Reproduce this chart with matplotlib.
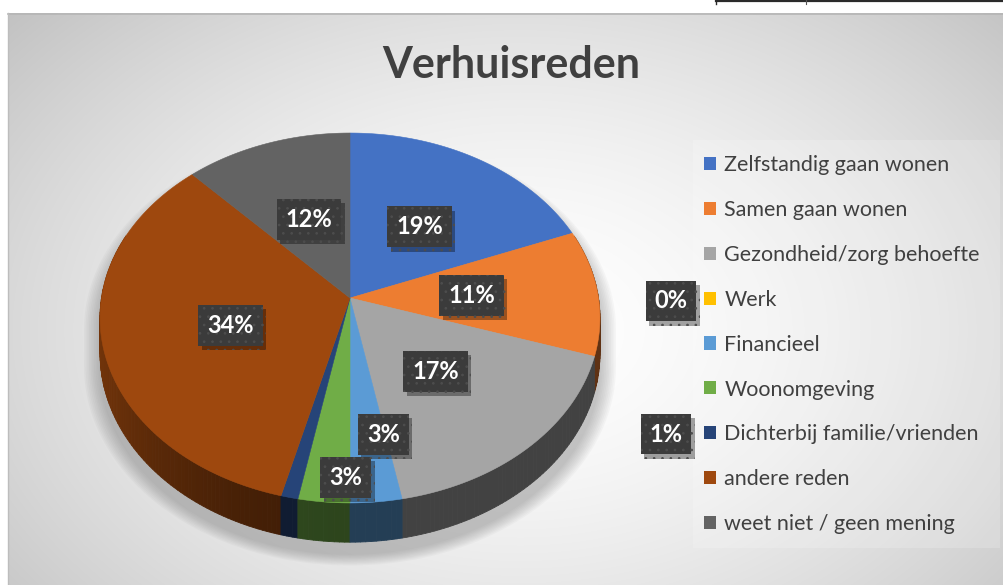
import numpy as np
import matplotlib
matplotlib.use('Agg')
import matplotlib.pyplot as plt
from matplotlib.patches import Polygon, Patch, Rectangle
from matplotlib.collections import PolyCollection
import matplotlib.patheffects as pe

# ---------------- data ----------------
title = 'Verhuisreden'
categories = ['Zelfstandig gaan wonen', 'Samen gaan wonen', 'Gezondheid/zorg behoefte',
              'Werk', 'Financieel', 'Woonomgeving', 'Dichterbij familie/vrienden',
              'andere reden', 'weet niet / geen mening']
percentages = [19, 11, 17, 0, 3, 3, 1, 34, 12]
colors = ['#4472C4', '#ED7D31', '#A5A5A5', '#FFC000', '#5B9BD5',
          '#70AD47', '#264478', '#9E480E', '#636363']

FONT = 'Lato'
plt.rcParams['font.family'] = [FONT, 'DejaVu Sans']
plt.rcParams['hatch.linewidth'] = 0.7

W, H = 1004, 585
fig = plt.figure(figsize=(W / 100, H / 100), dpi=100)
ax = fig.add_axes([0, 0, 1, 1])
ax.set_xlim(0, W)
ax.set_ylim(H, 0)
ax.axis('off')

# ---------------- background ----------------
yy, xx = np.mgrid[13:H, 8:W]
d = np.hypot((xx - 520) / 600.0, (yy - 330) / 420.0)
val = 1 - 0.24 * np.clip(d / 1.14, 0, 1.1) ** 1.6
img = np.dstack([val] * 3)
ax.imshow(img, extent=(8, W, H, 13), interpolation='bilinear', zorder=0, aspect='auto')
ax.plot([8, W], [13.5, 13.5], color='#b5b5b5', lw=1.2, zorder=1)
ax.plot([8.5, 8.5], [13, H], color='#bdbdbd', lw=1.0, zorder=1)
ax.plot([716, W], [1, 1], color='#2a2a2a', lw=1.6, zorder=1)
ax.plot([716, 716], [0, 4], color='#2a2a2a', lw=1.0, zorder=1)
ax.plot([806, 806], [0, 4], color='#555555', lw=0.8, zorder=1)

# legend area panel
ax.add_patch(Rectangle((693, 140), 307, 408, facecolor='white', alpha=0.18,
                       edgecolor='none', zorder=1))

# ---------------- 3D pie geometry ----------------
cx, cy, R, S, k, D = 350.0, 298.0, 248.5, 182.8, 0.108, 35.0


def proj(theta, r=1.0, drop=False):
    x = r * np.sin(theta)
    yf = -r * np.cos(theta)
    w = 1 - k * yf
    X = cx + R * x / w
    Y = cy + S * yf / w
    if drop:
        Y = Y + D / w
    return X, Y


def to_rgb(c):
    return np.array(matplotlib.colors.to_rgb(c))


def shade(theta):
    s = -np.sin(theta)
    return 0.40 + 0.33 * np.clip(s, 0, 1) ** 2


vals = np.array(percentages, dtype=float)
cum = np.concatenate([[0], np.cumsum(vals)]) / vals.sum() * 2 * np.pi

# shadow halo (convex hull of top + bottom outline)
tt = np.linspace(0, 2 * np.pi, 361)
pts = np.vstack([np.column_stack(proj(tt)), np.column_stack(proj(tt, drop=True))])


def hull(p):
    p = sorted(map(tuple, p))
    def cross(o, a, b):
        return (a[0] - o[0]) * (b[1] - o[1]) - (a[1] - o[1]) * (b[0] - o[0])
    lower, upper = [], []
    for q in p:
        while len(lower) >= 2 and cross(lower[-2], lower[-1], q) <= 0:
            lower.pop()
        lower.append(q)
    for q in reversed(p):
        while len(upper) >= 2 and cross(upper[-2], upper[-1], q) <= 0:
            upper.pop()
        upper.append(q)
    return np.array(lower[:-1] + upper[:-1])


hp = hull(pts)
hc = np.array([350.0, 330.0])
for e in np.linspace(16, 1, 10):
    sc = np.array([1 + e / 250.0, 1 + e / 300.0])
    poly = (hp - hc) * sc + hc + np.array([0, 12])
    ax.add_patch(Polygon(poly, closed=True, facecolor='#6a6a6a', alpha=0.045,
                         edgecolor='none', zorder=2))

# side faces
quads, qcols, qdepth = [], [], []
for i, p in enumerate(percentages):
    if p <= 0:
        continue
    t0, t1 = cum[i], cum[i + 1]
    n = max(2, int(np.degrees(t1 - t0)))
    ts = np.linspace(t0, t1, n + 1)
    base = to_rgb(colors[i])
    for a, b in zip(ts[:-1], ts[1:]):
        m = 0.5 * (a + b)
        if -np.cos(m) < -0.35:
            continue
        xa, ya = proj(a)
        xb, yb = proj(b)
        xa2, ya2 = proj(a, drop=True)
        xb2, yb2 = proj(b, drop=True)
        quads.append([(xa, ya), (xb, yb), (xb2, yb2), (xa2, ya2)])
        qcols.append(np.clip(base * shade(m), 0, 1))
        qdepth.append(-np.cos(m))
order = np.argsort(qdepth)
pc = PolyCollection([quads[j] for j in order], facecolors=[qcols[j] for j in order],
                    edgecolors=[qcols[j] for j in order], linewidths=0.6, zorder=3)
ax.add_collection(pc)

# top faces
for i, p in enumerate(percentages):
    if p <= 0:
        continue
    t0, t1 = cum[i], cum[i + 1]
    ts = np.linspace(t0, t1, max(3, int(np.degrees(t1 - t0)) * 2))
    X, Y = proj(ts)
    poly = np.vstack([[cx, cy], np.column_stack([X, Y])])
    ax.add_patch(Polygon(poly, closed=True, facecolor=colors[i], edgecolor=colors[i],
                         linewidth=0.4, zorder=4))

# ---------------- data labels ----------------
# per slice: ('in', radius fraction, dx, dy) or ('out', x, y)
label_place = [('in', 0.52, 0, 4), ('in', 0.49, 0, 0), ('in', 0.50, 0, 2),
               ('out', 671, 301), ('in', 0.69, 16, 1), ('in', 0.90, 19, -2),
               ('out', 666, 434), ('in', 0.49, 0, 5), ('in', 0.47, 0, -2)]
for i, p in enumerate(percentages):
    lp = label_place[i]
    if lp[0] == 'in':
        mid = 0.5 * (cum[i] + cum[i + 1])
        X, Y = proj(mid, r=lp[1])
        X, Y = X + lp[2], Y + lp[3]
    else:
        X, Y = lp[1], lp[2]
    txt = ax.text(X, Y, f'{p:.0f}%', ha='center', va='center', fontsize=17,
                  fontweight='bold', color='white', zorder=6,
                  bbox=dict(boxstyle='square,pad=0.38', facecolor='#3b3b3b',
                            edgecolor='#4d4d4d', linewidth=0, hatch='..'))
    txt.get_bbox_patch().set_path_effects(
        [pe.SimplePatchShadow(offset=(2.5, -3), shadow_rgbFace='black', alpha=0.35),
         pe.Normal()])

# ---------------- title ----------------
ax.text(511, 65, title, ha='center', va='center', fontsize=31, fontweight='bold',
        color='#404040', zorder=6)

# ---------------- legend ----------------
handles = [Patch(facecolor=c, edgecolor='none') for c in colors]
leg = ax.legend(handles, categories, loc='upper left',
                bbox_to_anchor=(704 / W, 1 - 155 / H), bbox_transform=fig.transFigure,
                frameon=False, fontsize=15.5, labelspacing=1.157, handlelength=0.56,
                handleheight=0.56, handletextpad=0.38, borderpad=0, borderaxespad=0)
for t in leg.get_texts():
    t.set_color('#404040')
leg.set_zorder(7)

fig.savefig('out.png', dpi=100)
